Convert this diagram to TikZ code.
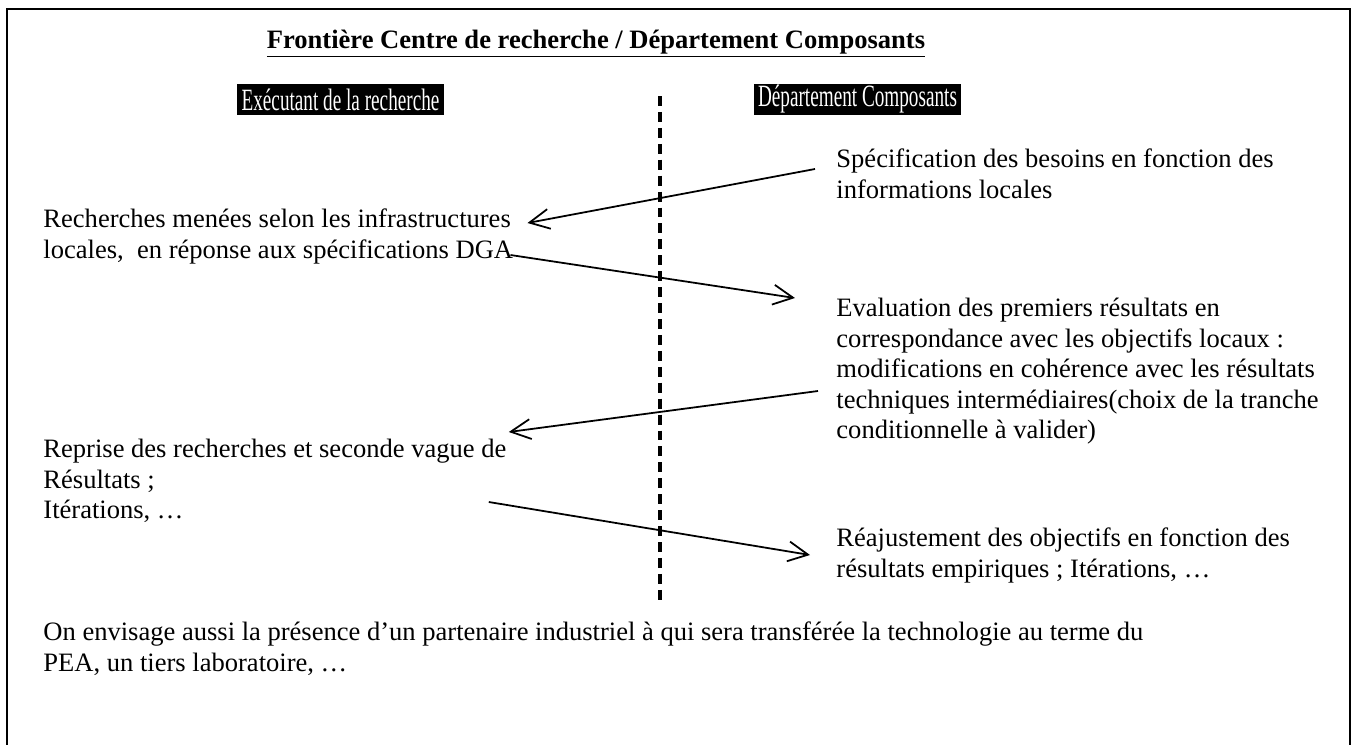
\documentclass[tikz,border=0pt]{standalone}
\usepackage{fontspec}
\setmainfont{Liberation Serif}
\usepackage{graphicx}
\usetikzlibrary{arrows.meta,calc}

\begin{document}
\begin{tikzpicture}[x=0.452pt, y=-0.452pt,
        txt/.style={anchor=north west, inner sep=0pt, align=left,
              font=\fontsize{12}{13.8}\selectfont},
        hdr/.style={fill=black, text=white, inner sep=0pt,
              minimum width=93.6pt, minimum height=14pt,
              font=\fontsize{14}{14}\selectfont},
        link/.style={-{Straight Barb[length=9pt,width=9pt]}, line width=0.8pt}]
        \useasboundingbox (0,0) rectangle (1352,745);
        % frame and divider
        \draw[line width=0.9pt] (7,745) -- (7,9) -- (1350,9) -- (1350,745);
        \draw[line width=1.5pt, dash pattern=on 4.5pt off 2.7pt] (660,96) -- (660,600);
        \node[anchor=base, inner sep=0pt, font=\fontsize{12}{13.8}\selectfont\bfseries] (title) at (596,48)
              {\underline{Frontière Centre de recherche / Département Composants}};
        \node[hdr] (exec) at (340.5,99.5) {\scalebox{0.62}[1]{Exécutant de la recherche}};
        \node[hdr] (dept) at (857.5,99.5) {\scalebox{0.62}[1]{Département Composants}};
        \node[txt] (spec) at (836,146)
              {\strut Spécification des besoins en fonction des\\informations locales};
        \node[txt] (rech) at (43,206)
              {\strut Recherches menées selon les infrastructures\\locales,\ \ en réponse aux spécifications DGA};
        \node[txt] (eval) at (836,295)
              {\strut Evaluation des premiers résultats en\\correspondance avec les objectifs locaux :\\
               modifications en cohérence avec les résultats\\techniques intermédiaires(choix de la tranche\\
               conditionnelle à valider)};
        \node[txt] (repr) at (43,436)
              {\strut Reprise des recherches et seconde vague de\\Résultats ;\\Itérations, …};
        \node[txt] (reaj) at (836,525)
              {\strut Réajustement des objectifs en fonction des\\résultats empiriques ; Itérations, …};
        \node[txt] (envis) at (43,619)
              {\strut On envisage aussi la présence d’un partenaire industriel à qui sera transférée la technologie au terme du\\
               PEA, un tiers laboratoire, …};
        \draw[link] ($(spec.north west)+(-21,23)$) -- ($(rech.north east)+(14,17)$);
        \draw[link] ($(rech.north east)+(-3,49)$) -- ($(eval.north west)+(-41,3)$);
        \draw[link] ($(eval.north west)+(-18,96)$) -- ($(repr.north east)+(2,-4)$);
        \draw[link] ($(repr.north east)+(-18,66)$) -- ($(reaj.north west)+(-26,30)$);
    \end{tikzpicture}
\end{document}
